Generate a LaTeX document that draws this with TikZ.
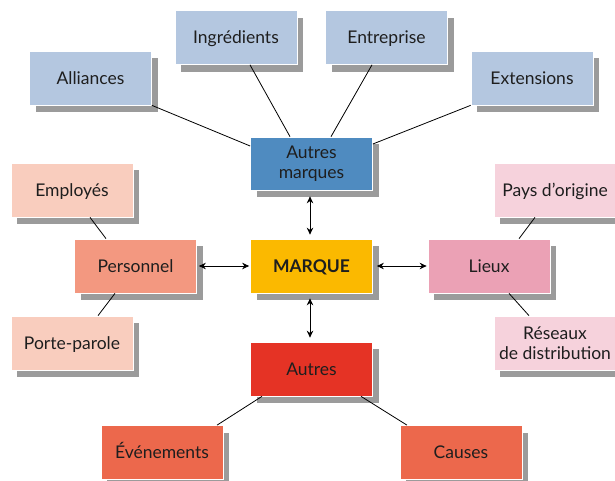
\documentclass[tikz,border=0pt]{standalone}
\usepackage{fontspec}
\setmainfont{Lato}
\usetikzlibrary{shadows,arrows.meta,calc}
\definecolor{lblue}{HTML}{B4C7E0}
\definecolor{dblue}{HTML}{4F8BC0}
\definecolor{myellow}{HTML}{FBB900}
\definecolor{salmon}{HTML}{F39880}
\definecolor{lsalmon}{HTML}{F9CDBE}
\definecolor{mpink}{HTML}{EBA1B5}
\definecolor{lpink}{HTML}{F6D2DC}
\definecolor{mred}{HTML}{E53325}
\definecolor{mor}{HTML}{EC684C}
\definecolor{shadowgray}{HTML}{9B9B9B}
\definecolor{txt}{HTML}{1E1E1E}
\tikzset{
  box/.style={draw=white, line width=0.7pt, minimum width=122pt, minimum height=54pt,
    inner sep=2pt, align=center, text=txt, font=\fontsize{17.5}{20}\selectfont,
    drop shadow={shadow xshift=6pt, shadow yshift=-7pt, fill=shadowgray, opacity=1}},
  one/.style={box, text height=14pt, text depth=2pt},
  link/.style={line width=0.8pt, black},
  dbl/.style={line width=0.9pt, black, {Stealth[length=7pt,width=6.5pt]}-{Stealth[length=7pt,width=6.5pt]}}
}
\begin{document}
\begin{tikzpicture}[x=1pt,y=-1pt]
\useasboundingbox (0,0) rectangle (615,480);
\node[one, fill=lblue] (all) at (90.5,78) {Alliances};
\node[one, fill=lblue] (ing) at (236,37.5) {Ingrédients};
\node[one, fill=lblue] (ent) at (386.5,37.5) {Entreprise};
\node[one, fill=lblue] (ext) at (532,78) {Extensions};
\node[one, fill=lsalmon] (emp) at (72,190) {Employés};
\node[one, fill=lsalmon] (por) at (72,343) {Porte-parole};
\node[one, fill=lpink] (pay) at (555,190) {Pays d'origine};
\node[box, fill=lpink] (res) at (555,343) {Réseaux\\de distribution};
\node[one, fill=mor] (eve) at (162,452.5) {Événements};
\node[one, fill=mor] (cau) at (461,452.5) {Causes};
\node[box, fill=dblue, minimum height=53pt] (am) at (311.5,163.5) {Autres\\marques};
\node[one, fill=myellow] (mar) at (311.5,266) {\textbf{MARQUE}};
\node[one, fill=salmon] (per) at (135.5,266) {Personnel};
\node[one, fill=mpink] (lie) at (489,266) {Lieux};
\node[one, fill=mred] (aut) at (311.5,369) {Autres};
% lines
\draw[link] (all.south east) -- ($(am.west)+(0,-17.5)$);
\draw[link] ($(ing.south)+(14,0)$) -- ($(am.north)+(-21.5,0)$);
\draw[link] ($(ent.south)+(-14.5,0)$) -- ($(am.north)+(19.5,0)$);
\draw[link] (ext.south west) -- ($(am.east)+(0,-19.5)$);
\draw[link] ($(emp.south)+(18,0)$) -- ($(per.north)+(-29.5,0)$);
\draw[link] ($(por.north)+(26,0)$) -- ($(per.south)+(-20.5,0)$);
\draw[link] ($(pay.south)+(-20,0)$) -- ($(lie.north)+(30,0)$);
\draw[link] ($(res.north)+(-26,0)$) -- ($(lie.south)+(20,0)$);
\draw[link] ($(eve.north)+(55,0)$) -- ($(aut.south)+(-49.5,0)$);
\draw[link] ($(cau.north)+(-54,0)$) -- ($(aut.south)+(49.5,0)$);
% arrows
\draw[dbl] ($(am.south)+(-1.5,6)$) -- ($(mar.north)+(-1.5,-4)$);
\draw[dbl] ($(mar.south)+(-1.5,5)$) -- ($(aut.north)+(-1.5,-4)$);
\draw[dbl] ($(per.east)+(2,0)$) -- ($(mar.west)+(-1,0)$);
\draw[dbl] ($(mar.east)+(4,0)$) -- ($(lie.west)+(-1,0)$);
\end{tikzpicture}
\end{document}
